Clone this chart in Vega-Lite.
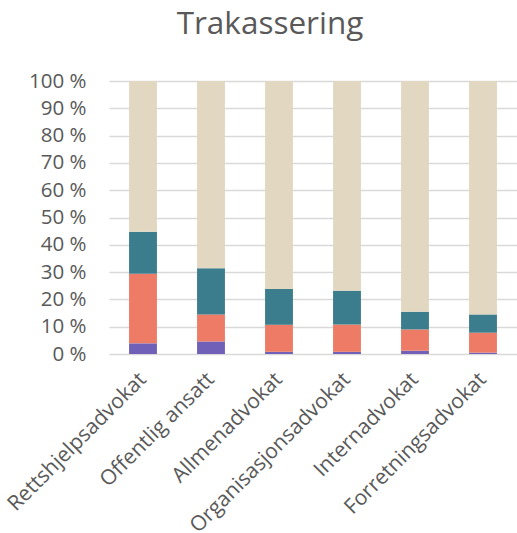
{
  "$schema": "https://vega.github.io/schema/vega-lite/v6.json",
  "autosize": "none",
  "width": 408,
  "height": 273,
  "padding": {"left": 109, "top": 81, "right": 0, "bottom": 179},
  "background": "white",
  "title": {
    "text": "Trakassering",
    "font": "Open Sans",
    "fontSize": 31.5,
    "fontWeight": "normal",
    "color": "#595959",
    "anchor": "middle",
    "dx": -43,
    "offset": 31
  },
  "data": {
    "values": [
      {"kategori": "Rettshjelpsadvokat", "serie": "A", "ordre": 1, "verdi": 3.9},
      {"kategori": "Rettshjelpsadvokat", "serie": "B", "ordre": 2, "verdi": 25.5},
      {"kategori": "Rettshjelpsadvokat", "serie": "C", "ordre": 3, "verdi": 15.4},
      {"kategori": "Rettshjelpsadvokat", "serie": "D", "ordre": 4, "verdi": 55.2},
      {"kategori": "Offentlig ansatt", "serie": "A", "ordre": 1, "verdi": 4.6},
      {"kategori": "Offentlig ansatt", "serie": "B", "ordre": 2, "verdi": 9.9},
      {"kategori": "Offentlig ansatt", "serie": "C", "ordre": 3, "verdi": 16.9},
      {"kategori": "Offentlig ansatt", "serie": "D", "ordre": 4, "verdi": 68.6},
      {"kategori": "Allmenadvokat", "serie": "A", "ordre": 1, "verdi": 0.8},
      {"kategori": "Allmenadvokat", "serie": "B", "ordre": 2, "verdi": 9.9},
      {"kategori": "Allmenadvokat", "serie": "C", "ordre": 3, "verdi": 13.1},
      {"kategori": "Allmenadvokat", "serie": "D", "ordre": 4, "verdi": 76.2},
      {"kategori": "Organisasjonsadvokat", "serie": "A", "ordre": 1, "verdi": 0.8},
      {"kategori": "Organisasjonsadvokat", "serie": "B", "ordre": 2, "verdi": 10.0},
      {"kategori": "Organisasjonsadvokat", "serie": "C", "ordre": 3, "verdi": 12.4},
      {"kategori": "Organisasjonsadvokat", "serie": "D", "ordre": 4, "verdi": 76.8},
      {"kategori": "Internadvokat", "serie": "A", "ordre": 1, "verdi": 1.2},
      {"kategori": "Internadvokat", "serie": "B", "ordre": 2, "verdi": 7.8},
      {"kategori": "Internadvokat", "serie": "C", "ordre": 3, "verdi": 6.5},
      {"kategori": "Internadvokat", "serie": "D", "ordre": 4, "verdi": 84.5},
      {"kategori": "Forretningsadvokat", "serie": "A", "ordre": 1, "verdi": 0.5},
      {"kategori": "Forretningsadvokat", "serie": "B", "ordre": 2, "verdi": 7.3},
      {"kategori": "Forretningsadvokat", "serie": "C", "ordre": 3, "verdi": 6.7},
      {"kategori": "Forretningsadvokat", "serie": "D", "ordre": 4, "verdi": 85.5}
    ]
  },
  "mark": {"type": "bar"},
  "encoding": {
    "x": {
      "field": "kategori",
      "type": "nominal",
      "sort": null,
      "scale": {"paddingInner": 0.59, "paddingOuter": 0.295},
      "axis": {
        "title": null,
        "labelAngle": -45,
        "labelAlign": "right",
        "labelBaseline": "middle",
        "labelFont": "Open Sans",
        "labelFontSize": 21,
        "labelColor": "#595959",
        "labelPadding": 22,
        "labelLimit": 0,
        "labelOverlap": false,
        "ticks": false,
        "domain": false
      }
    },
    "y": {
      "field": "verdi",
      "type": "quantitative",
      "stack": "normalize",
      "scale": {"domain": [0, 1]},
      "axis": {
        "title": null,
        "values": [0, 0.1, 0.2, 0.3, 0.4, 0.5, 0.6, 0.7, 0.8, 0.9, 1],
        "labelExpr": "format(datum.value * 100, 'd') + ' %'",
        "labelFont": "Open Sans",
        "labelFontSize": 20.5,
        "labelColor": "#595959",
        "labelPadding": 23,
        "labelOverlap": false,
        "ticks": false,
        "domain": false,
        "grid": true,
        "gridColor": "#D9D9D9",
        "gridWidth": 1.5
      }
    },
    "color": {
      "field": "serie",
      "type": "nominal",
      "scale": {"domain": ["A", "B", "C", "D"], "range": ["#7160B8", "#EE7B65", "#3B7D8C", "#E2D8C2"]},
      "legend": null
    },
    "order": {"field": "ordre", "type": "quantitative"}
  },
  "config": {"view": {"stroke": null}}
}
